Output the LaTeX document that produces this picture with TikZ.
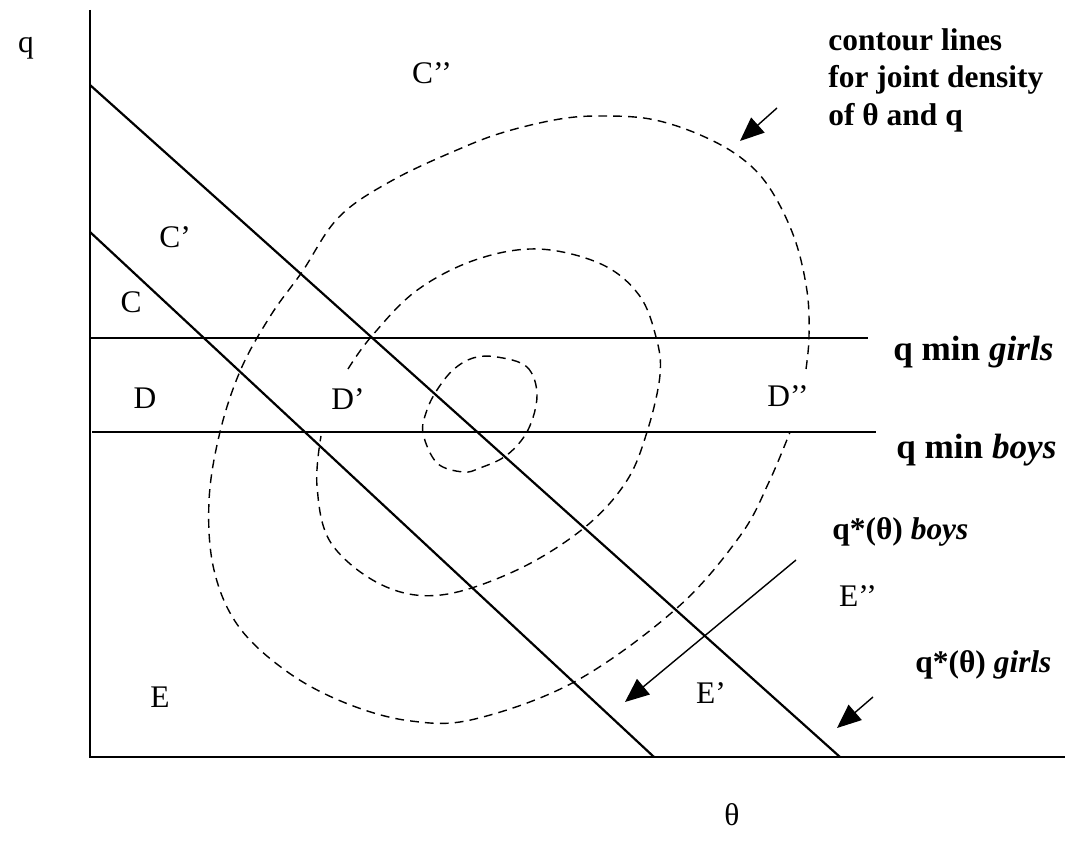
\documentclass[tikz,border=0pt]{standalone}
\usepackage{fontspec}
\setmainfont{Liberation Serif}
\usetikzlibrary{arrows.meta,positioning,calc}

\begin{document}
\begin{tikzpicture}[
        x=0.02cm, y=-0.02cm,
        font=\fontsize{17.9}{21.5}\selectfont,
        axis/.style={line width=1.1pt},
        schedule/.style={line width=1.25pt},
        contour/.style={line width=0.8pt, dash pattern=on 5pt off 3.5pt},
        arrow/.style={line width=0.8pt, -{Triangle[length=0.48cm, width=0.4cm]}},
        region/.style={inner sep=0pt},
        note/.style={inner sep=0pt, font=\fontsize{17.9}{21.5}\selectfont\bfseries, align=left},
        minnote/.style={inner sep=0pt, anchor=west, font=\fontsize{20}{24}\selectfont\bfseries}
    ]
    \useasboundingbox (0,0) rectangle (1079,844);

    % axes
    \coordinate (origin) at (90,757);
    \coordinate (qtop) at (90,10);
    \coordinate (thetaend) at (1065,757);
    \draw[axis] (qtop) -- (origin) -- (thetaend);
    \node[region] (qlabel) at (26,48) {q};
    \node[region] (thetalabel) at (732,815) {θ};

    % minimum quality lines
    \coordinate (girlsminL) at (90,338);
    \coordinate (girlsminR) at (868,338);
    \coordinate (boysminL) at (92,432);
    \coordinate (boysminR) at (876,432);
    \draw[axis] (girlsminL) -- (girlsminR);
    \draw[axis] (boysminL) -- (boysminR);
    \node[minnote] (girlsmin) at (893,352) {q min \textit{girls}};
    \node[minnote] (boysmin) at (896,450) {q min \textit{boys}};

    % q*(theta) schedules
    \coordinate (girlsstarttop) at (90,85);
    \coordinate (girlsstartbot) at (840,757);
    \coordinate (boysstarttop) at (90,232);
    \coordinate (boysstartbot) at (654,757);
    \draw[schedule] (girlsstarttop) -- (girlsstartbot);
    \draw[schedule] (boysstarttop) -- (boysstartbot);

    % contour lines
    \draw[contour] plot[smooth, tension=0.6] coordinates {
        (806,369) (809,337) (807,291) (794,237) (769,187) (740,157) (698,134)
        (650,119) (600,116) (560,119) (508,131) (464,147) (393,180) (339,217)
        (302,272) (271,315) (241,369) (220,432) (209,501) (214,570) (239,627)
        (289,673) (348,704) (411,721) (475,719) (576,681) (677,608) (740,536)
        (769,482) (790,432)};
    \draw[contour] plot[smooth, tension=0.6] coordinates {
        (348,369) (371,337) (416,291) (475,260) (538,249) (601,264) (639,295)
        (656,337) (660,375) (647,432) (626,482) (584,528) (517,570) (441,595)
        (382,585) (331,543) (317,486) (321,436)};
    \draw[contour] plot[smooth cycle, tension=0.6] coordinates {
        (497,357) (527,367) (537,395) (528,430) (507,455) (480,468) (463,472)
        (437,463) (423,433) (427,410) (437,390) (453,370) (473,358)};

    % region labels
    \node[region] (Cpp) at (432,73) {C’’};
    \node[region] (Cp) at (175,237) {C’};
    \node[region] (C) at (131,302) {C};
    \node[region] (D) at (145,398) {D};
    \node[region] (Dp) at (348,399) {D’};
    \node[region] (Dpp) at (788,396) {D’’};
    \node[region] (E) at (160,697) {E};
    \node[region] (Ep) at (711,693) {E’};
    \node[region] (Epp) at (858,596) {E’’};

    % notes and arrows
    \node[note, anchor=north west] (contournote) at (828,28) {contour lines\\for joint density\\of θ and q};
    \node[note, anchor=west] (boysnote) at (832,532) {q*(θ) \textit{boys}};
    \node[note, anchor=west] (girlsnote) at (915,665) {q*(θ) \textit{girls}};
    \coordinate (contourtail) at (777,108);
    \coordinate (contourtip) at (740,141);
    \coordinate (boystail) at (796,560);
    \coordinate (boystip) at (625,702);
    \coordinate (girlstail) at (873,697);
    \coordinate (girlstip) at (837,728);
    \draw[arrow] (contourtail) -- (contourtip);
    \draw[arrow] (boystail) -- (boystip);
    \draw[arrow] (girlstail) -- (girlstip);

\end{tikzpicture}
\end{document}
